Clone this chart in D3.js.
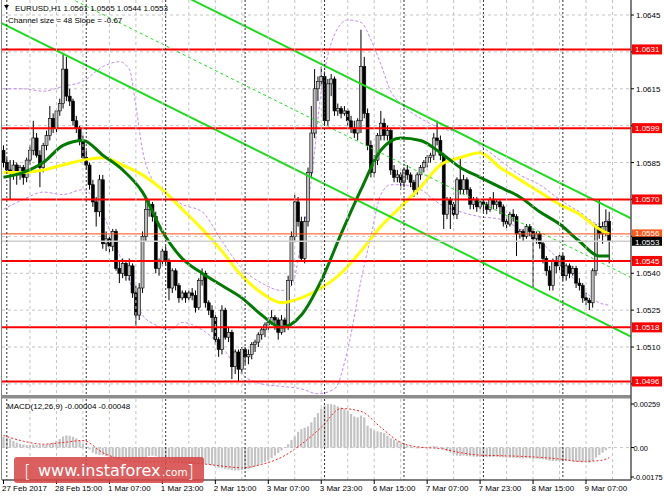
<!DOCTYPE html>
<html>
<head>
<meta charset="utf-8">
<script src="https://cdn.jsdelivr.net/npm/d3@7"></script>
<style>
  body { margin: 0; background: #fff; }
  svg text { font-family: "Liberation Sans", Arial, sans-serif; font-size: 8px; }
</style>
</head>
<body>
<script>
// EURUSD H1, 27 Feb - 9 Mar 2017
var timeLabels = ["27 Feb 2017", "28 Feb 15:00", "1 Mar 07:00", "1 Mar 23:00", "2 Mar 15:00", "3 Mar 07:00",
                  "3 Mar 23:00", "6 Mar 15:00", "7 Mar 07:00", "7 Mar 23:00", "8 Mar 15:00", "9 Mar 07:00"];
var priceTicks = [1.0645, 1.0630, 1.0615, 1.0600, 1.0585, 1.0570, 1.0555, 1.0540, 1.0525, 1.0510, 1.0495];
var levels = [1.0631, 1.0599, 1.0570, 1.0545, 1.0518, 1.0496];
var pivot = 1.0556;
var bid = 1.0553;
var daySeparators = [1, 25, 49, 73, 97, 121, 145, 169];

var opens = [
  1.0590,1.0585,1.0582,1.0581,1.0584,1.0580,1.0583,1.0579,1.0586,1.0590,1.0595,1.0588,
  1.0583,1.0592,1.0596,1.0603,1.0599,1.0606,1.0609,1.0623,1.0612,1.0610,1.0602,1.0599,
  1.0594,1.0587,1.0584,1.0576,1.0569,1.0565,1.0578,1.0552,1.0554,1.0551,1.0557,1.0542,
  1.0540,1.0544,1.0539,1.0543,1.0532,1.0523,1.0534,1.0555,1.0566,1.0568,1.0563,1.0542,
  1.0545,1.0549,1.0545,1.0534,1.0541,1.0535,1.0530,1.0532,1.0530,1.0532,1.0531,1.0526,
  1.0537,1.0540,1.0528,1.0525,1.0522,1.0513,1.0509,1.0525,1.0514,1.0516,1.0502,1.0508,
  1.0501,1.0509,1.0506,1.0507,1.0511,1.0512,1.0515,1.0517,1.0519,1.0520,1.0522,1.0521,
  1.0516,1.0521,1.0519,1.0537,1.0555,1.0569,1.0561,1.0546,1.0561,1.0581,1.0597,1.0615,
  1.0618,1.0620,1.0602,1.0617,1.0619,1.0606,1.0607,1.0605,1.0606,1.0602,1.0599,1.0597,
  1.0602,1.0624,1.0605,1.0592,1.0581,1.0586,1.0596,1.0601,1.0596,1.0598,1.0582,1.0579,
  1.0580,1.0577,1.0582,1.0580,1.0577,1.0574,1.0580,1.0583,1.0585,1.0587,1.0588,1.0595,
  1.0594,1.0588,1.0564,1.0570,1.0568,1.0564,1.0578,1.0574,1.0578,1.0574,1.0568,1.0570,
  1.0567,1.0569,1.0568,1.0566,1.0570,1.0568,1.0569,1.0567,1.0561,1.0560,1.0564,1.0563,
  1.0556,1.0557,1.0555,1.0559,1.0557,1.0554,1.0556,1.0552,1.0546,1.0541,1.0535,1.0545,
  1.0543,1.0547,1.0539,1.0543,1.0540,1.0542,1.0536,1.0535,1.0530,1.0529,1.0528,1.0541,
  1.0559,1.0556,1.0559,1.0561];
var highs = [
  1.0592,1.0587,1.0586,1.0586,1.0585,1.0584,1.0584,1.0587,1.0592,1.0602,1.0597,1.0590,
  1.0593,1.0598,1.0608,1.0605,1.0607,1.0611,1.0629,1.0628,1.0615,1.0611,1.0604,1.0600,
  1.0596,1.0590,1.0585,1.0578,1.0571,1.0580,1.0580,1.0557,1.0556,1.0558,1.0558,1.0545,
  1.0546,1.0545,1.0546,1.0544,1.0535,1.0536,1.0557,1.0571,1.0570,1.0569,1.0565,1.0546,
  1.0550,1.0551,1.0546,1.0542,1.0542,1.0536,1.0533,1.0533,1.0533,1.0534,1.0533,1.0538,
  1.0542,1.0541,1.0529,1.0527,1.0523,1.0514,1.0527,1.0526,1.0518,1.0517,1.0509,1.0509,
  1.0510,1.0510,1.0509,1.0512,1.0513,1.0516,1.0518,1.0520,1.0522,1.0525,1.0523,1.0522,
  1.0523,1.0522,1.0539,1.0557,1.0572,1.0571,1.0563,1.0563,1.0583,1.0608,1.0623,1.0620,
  1.0624,1.0622,1.0619,1.0621,1.0620,1.0609,1.0608,1.0608,1.0607,1.0604,1.0602,1.0603,
  1.0639,1.0628,1.0607,1.0594,1.0588,1.0597,1.0606,1.0603,1.0600,1.0599,1.0584,1.0582,
  1.0581,1.0583,1.0584,1.0581,1.0578,1.0581,1.0584,1.0586,1.0588,1.0589,1.0597,1.0602,
  1.0596,1.0589,1.0571,1.0571,1.0569,1.0579,1.0587,1.0580,1.0579,1.0575,1.0571,1.0571,
  1.0570,1.0570,1.0569,1.0571,1.0573,1.0570,1.0570,1.0568,1.0563,1.0565,1.0566,1.0564,
  1.0558,1.0558,1.0560,1.0560,1.0558,1.0557,1.0557,1.0553,1.0547,1.0543,1.0546,1.0547,
  1.0548,1.0548,1.0544,1.0544,1.0543,1.0543,1.0538,1.0536,1.0532,1.0530,1.0542,1.0560,
  1.0570,1.0561,1.0566,1.0565];
var lows = [
  1.0583,1.0581,1.0570,1.0578,1.0576,1.0578,1.0576,1.0577,1.0584,1.0588,1.0587,1.0575,
  1.0581,1.0590,1.0594,1.0597,1.0597,1.0604,1.0607,1.0610,1.0608,1.0600,1.0597,1.0592,
  1.0586,1.0582,1.0574,1.0567,1.0559,1.0563,1.0550,1.0549,1.0548,1.0549,1.0541,1.0536,
  1.0538,1.0537,1.0537,1.0530,1.0518,1.0521,1.0532,1.0553,1.0563,1.0561,1.0540,1.0539,
  1.0543,1.0543,1.0529,1.0532,1.0533,1.0528,1.0529,1.0528,1.0529,1.0529,1.0524,1.0525,
  1.0535,1.0526,1.0523,1.0516,1.0511,1.0506,1.0507,1.0513,1.0512,1.0497,1.0499,1.0496,
  1.0499,1.0503,1.0503,1.0505,1.0508,1.0510,1.0513,1.0514,1.0517,1.0519,1.0517,1.0513,
  1.0515,1.0516,1.0517,1.0535,1.0553,1.0559,1.0545,1.0544,1.0559,1.0579,1.0595,1.0610,
  1.0616,1.0600,1.0600,1.0612,1.0604,1.0604,1.0603,1.0604,1.0600,1.0597,1.0595,1.0594,
  1.0597,1.0603,1.0590,1.0579,1.0579,1.0584,1.0594,1.0594,1.0594,1.0580,1.0577,1.0577,
  1.0574,1.0575,1.0578,1.0575,1.0571,1.0572,1.0578,1.0581,1.0583,1.0585,1.0586,1.0592,
  1.0586,1.0558,1.0562,1.0558,1.0562,1.0562,1.0572,1.0572,1.0572,1.0566,1.0566,1.0565,
  1.0566,1.0565,1.0564,1.0565,1.0566,1.0566,1.0564,1.0559,1.0558,1.0559,1.0561,1.0547,
  1.0554,1.0553,1.0554,1.0555,1.0534,1.0552,1.0550,1.0544,1.0539,1.0533,1.0533,1.0540,
  1.0541,1.0537,1.0537,1.0538,1.0539,1.0534,1.0533,1.0528,1.0527,1.0525,1.0526,1.0539,
  1.0554,1.0552,1.0555,1.0544];
var closes = [
  1.0585,1.0582,1.0581,1.0584,1.0580,1.0583,1.0579,1.0586,1.0590,1.0595,1.0588,1.0583,
  1.0592,1.0596,1.0603,1.0599,1.0606,1.0609,1.0623,1.0612,1.0610,1.0602,1.0599,1.0594,
  1.0587,1.0584,1.0576,1.0569,1.0565,1.0578,1.0552,1.0554,1.0551,1.0557,1.0542,1.0540,
  1.0544,1.0539,1.0543,1.0532,1.0523,1.0534,1.0555,1.0566,1.0568,1.0563,1.0542,1.0545,
  1.0549,1.0545,1.0534,1.0541,1.0535,1.0530,1.0532,1.0530,1.0532,1.0531,1.0526,1.0537,
  1.0540,1.0528,1.0525,1.0522,1.0513,1.0509,1.0525,1.0514,1.0516,1.0502,1.0508,1.0501,
  1.0509,1.0506,1.0507,1.0511,1.0512,1.0515,1.0517,1.0519,1.0520,1.0522,1.0521,1.0516,
  1.0521,1.0519,1.0537,1.0555,1.0569,1.0561,1.0546,1.0561,1.0581,1.0597,1.0615,1.0618,
  1.0620,1.0602,1.0617,1.0619,1.0606,1.0607,1.0605,1.0606,1.0602,1.0599,1.0597,1.0602,
  1.0624,1.0605,1.0592,1.0581,1.0586,1.0596,1.0601,1.0596,1.0598,1.0582,1.0579,1.0580,
  1.0577,1.0582,1.0580,1.0577,1.0574,1.0580,1.0583,1.0585,1.0587,1.0588,1.0595,1.0594,
  1.0588,1.0564,1.0570,1.0568,1.0564,1.0578,1.0574,1.0578,1.0574,1.0568,1.0570,1.0567,
  1.0569,1.0568,1.0566,1.0570,1.0568,1.0569,1.0567,1.0561,1.0560,1.0564,1.0563,1.0556,
  1.0557,1.0555,1.0559,1.0557,1.0554,1.0556,1.0552,1.0546,1.0541,1.0535,1.0545,1.0543,
  1.0547,1.0539,1.0543,1.0540,1.0542,1.0536,1.0535,1.0530,1.0529,1.0528,1.0541,1.0559,
  1.0556,1.0559,1.0561,1.0553];

// moving averages, read every 6 bars
var maBars = [0,6,12,18,24,30,36,42,48,54,60,66,72,78,84,90,96,102,108,114,120,126,132,138,144,150,156,162,168,174,180,183];
var yellowMa = [1.0581,1.0581,1.0582,1.0584,1.0586,1.0587,1.0584,1.0580,1.0574,1.0566,1.0558,1.0549,1.0539,1.0532,1.0528,1.0530,
                1.0534,1.0540,1.0549,1.0559,1.0567,1.0575,1.0584,1.0587,1.0589,1.0583,1.0578,1.0573,1.0568,1.0564,1.0558,1.0556];
var greenMa = [1.0579,1.0581,1.0585,1.0592,1.0594,1.0588,1.0582,1.0573,1.0557,1.0546,1.0540,1.0535,1.0530,1.0523,1.0518,1.0523,
               1.0537,1.0556,1.0574,1.0590,1.0595,1.0594,1.0589,1.0583,1.0579,1.0575,1.0571,1.0565,1.0560,1.0553,1.0547,1.0547];

var upperBars = [0,6,12,18,24,30,35,38,40,42,45,48,54,60,66,72,78,84,87,90,93,96,100,104,108,111,114,117,120,126,132,138,144,150,156,162,168,174,180,183];
var upperBand = [1.0615,1.0615,1.0614,1.0616,1.0618,1.0624,1.0626,1.0623,1.0608,1.0590,1.0578,1.0574,1.0568,1.0565,1.0553,1.0542,
                 1.0536,1.0533,1.0535,1.0553,1.0578,1.0614,1.0637,1.0643,1.0642,1.0635,1.0625,1.0614,1.0609,1.0603,1.0599,1.0597,
                 1.0592,1.0586,1.0580,1.0576,1.0570,1.0565,1.0560,1.0562];
var lowerBars = [0,6,12,18,24,30,34,38,42,46,50,54,60,66,72,78,84,90,95,100,104,108,111,114,117,120,126,132,138,144,150,156,162,168,174,180,183];
var lowerBand = [1.0566,1.0570,1.0573,1.0572,1.0574,1.0564,1.0551,1.0537,1.0523,1.0519,1.0517,1.0520,1.0517,1.0510,1.0499,1.0495,
                 1.0494,1.0493,1.0491,1.0493,1.0509,1.0537,1.0555,1.0572,1.0576,1.0576,1.0574,1.0568,1.0565,1.0563,1.0562,1.0558,
                 1.0553,1.0545,1.0535,1.0528,1.0527];

// regression channel: lower edge, size 48 pips
var channelBars = [-1, 190];
var channelLower = [1.0642, 1.0514];
var channelSize = 0.0048;

var macdMain = [
  0.00064,0.00060,0.00052,0.00040,0.00030,0.00022,0.00018,0.00015,0.00016,0.00018,0.00016,0.00014,
  0.00016,0.00018,0.00022,0.00030,0.00040,0.00050,0.00066,0.00072,0.00070,0.00064,0.00055,0.00040,
  0.00022,0.00005,-0.00012,-0.00030,-0.00040,-0.00045,-0.00045,-0.00050,-0.00055,-0.00058,-0.00060,-0.00062,
  -0.00062,-0.00064,-0.00066,-0.00070,-0.00075,-0.00072,-0.00066,-0.00058,-0.00050,-0.00048,-0.00052,-0.00058,
  -0.00062,-0.00064,-0.00070,-0.00074,-0.00080,-0.00088,-0.00092,-0.00095,-0.00096,-0.00098,-0.00100,-0.00098,
  -0.00094,-0.00096,-0.00100,-0.00106,-0.00112,-0.00120,-0.00124,-0.00128,-0.00130,-0.00134,-0.00136,-0.00136,
  -0.00134,-0.00130,-0.00126,-0.00120,-0.00112,-0.00104,-0.00095,-0.00085,-0.00075,-0.00062,-0.00048,-0.00032,
  -0.00018,0.00002,0.00020,0.00045,0.00065,0.00094,0.00110,0.00118,0.00126,0.00150,0.00180,0.00205,
  0.00232,0.00250,0.00259,0.00258,0.00254,0.00245,0.00238,0.00228,0.00220,0.00200,0.00185,0.00180,
  0.00190,0.00180,0.00130,0.00115,0.00100,0.00096,0.00092,0.00086,0.00070,0.00055,0.00046,0.00035,
  0.00022,0.00016,0.00010,0.00006,-0.00004,-0.00005,-0.00004,0.00002,0.00004,0.00006,0.00008,0.00006,
  0.00002,-0.00010,-0.00020,-0.00030,-0.00040,-0.00048,-0.00050,-0.00048,-0.00050,-0.00052,-0.00054,-0.00055,
  -0.00056,-0.00056,-0.00057,-0.00056,-0.00055,-0.00055,-0.00056,-0.00058,-0.00060,-0.00060,-0.00060,-0.00062,
  -0.00064,-0.00064,-0.00063,-0.00064,-0.00066,-0.00066,-0.00068,-0.00070,-0.00074,-0.00078,-0.00080,-0.00080,
  -0.00080,-0.00082,-0.00080,-0.00080,-0.00082,-0.00084,-0.00086,-0.00088,-0.00090,-0.00090,-0.00080,-0.00060,
  -0.00045,-0.00030,-0.00016,-0.00004];
var macdSignal = [0.00072,0.00038,0.00020,0.00030,0.00042,-0.00030,-0.00072,-0.00085,-0.00085,-0.00088,-0.00096,-0.00110,
                  -0.00120,-0.00100,-0.00058,0.00020,0.00120,0.00232,0.00215,0.00120,0.00030,0.00002,-0.00006,-0.00030,
                  -0.00045,-0.00048,-0.00052,-0.00058,-0.00068,-0.00082,-0.00078,-0.00060];
var macdTicks = [0.00259, 0, -0.00175];

var W = 664, H = 498;
var left = 2, right = 631, mainBottom = 395, macdTop = 399, macdBottom = 480;

var svg = d3.select("body").append("svg")
            .attr("width", W)
            .attr("height", H);

svg.append("rect").attr("width", W).attr("height", H).attr("fill", "#fff");

var defs = svg.append("defs");
defs.append("clipPath").attr("id", "clipMain")
    .append("rect").attr("x", left).attr("y", 0).attr("width", right - left).attr("height", mainBottom);
defs.append("clipPath").attr("id", "clipMacd")
    .append("rect").attr("x", left).attr("y", macdTop).attr("width", right - left).attr("height", macdBottom - macdTop);

var x = d3.scaleLinear().domain([0, 183]).range([3.5, 609.2]);
var y = d3.scaleLinear().domain([1.04905, 1.06511]).range([mainBottom, 0]);
var ym = d3.scaleLinear().domain([-0.00175, 0.00259]).range([477, 404]);

var main = svg.append("g").attr("clip-path", "url(#clipMain)");
var macd = svg.append("g").attr("clip-path", "url(#clipMacd)");

// grid
var gridBars = d3.range(8, 190, 8);
[[0, mainBottom], [macdTop, macdBottom]].forEach(function(span) {
  svg.append("g").selectAll("line")
      .data(gridBars)
    .enter().append("line")
      .attr("x1", function(d) { return x(d); })
      .attr("x2", function(d) { return x(d); })
      .attr("y1", span[0]).attr("y2", span[1])
      .style("stroke", "#c4c4c4")
      .style("stroke-dasharray", "3,3");
  svg.append("g").selectAll("line")
      .data(daySeparators)
    .enter().append("line")
      .attr("x1", function(d) { return x(d); })
      .attr("x2", function(d) { return x(d); })
      .attr("y1", span[0]).attr("y2", span[1])
      .style("stroke", "#333")
      .style("stroke-dasharray", "2,2");
});

main.append("g").selectAll("line")
    .data(priceTicks)
  .enter().append("line")
    .attr("x1", left).attr("x2", right)
    .attr("y1", function(d) { return y(d); })
    .attr("y2", function(d) { return y(d); })
    .style("stroke", "#c4c4c4")
    .style("stroke-dasharray", "3,3");

macd.append("line")
    .attr("x1", left).attr("x2", right)
    .attr("y1", ym(0)).attr("y2", ym(0))
    .style("stroke", "#c4c4c4")
    .style("stroke-dasharray", "3,3");

// bollinger bands
var curve = d3.line()
    .x(function(d) { return x(d[0]); })
    .y(function(d) { return y(d[1]); })
    .curve(d3.curveMonotoneX);

[[upperBars, upperBand], [lowerBars, lowerBand]].forEach(function(b) {
  main.append("path")
      .datum(d3.zip(b[0], b[1]))
      .attr("d", curve)
      .style("fill", "none")
      .style("stroke", "#c58cf0")
      .style("stroke-width", 1)
      .style("stroke-dasharray", "3,2");
});

// candles
var bars = d3.range(opens.length);
main.append("g").selectAll("line")
    .data(bars)
  .enter().append("line")
    .attr("x1", function(i) { return x(i); })
    .attr("x2", function(i) { return x(i); })
    .attr("y1", function(i) { return y(highs[i]); })
    .attr("y2", function(i) { return y(lows[i]); })
    .style("stroke", "#000")
    .style("stroke-width", 1);

main.append("g").selectAll("rect")
    .data(bars)
  .enter().append("rect")
    .attr("x", function(i) { return x(i) - 1.5; })
    .attr("width", 3)
    .attr("y", function(i) { return y(Math.max(opens[i], closes[i])); })
    .attr("height", function(i) { return Math.max(1, Math.abs(y(opens[i]) - y(closes[i]))); })
    .style("fill", function(i) { return closes[i] >= opens[i] ? "#bdbdbd" : "#000"; })
    .style("stroke", "#000")
    .style("stroke-width", 0.6);

// moving averages
main.append("path")
    .datum(d3.zip(maBars, yellowMa))
    .attr("d", curve)
    .style("fill", "none")
    .style("stroke", "#ffff00")
    .style("stroke-width", 3);

main.append("path")
    .datum(d3.zip(maBars, greenMa))
    .attr("d", curve)
    .style("fill", "none")
    .style("stroke", "#007a00")
    .style("stroke-width", 3);

// channel
var straight = d3.line()
    .x(function(d) { return x(d[0]); })
    .y(function(d) { return y(d[1]); });

[0, channelSize].forEach(function(off) {
  main.append("path")
      .datum(channelBars.map(function(b, k) { return [b, channelLower[k] + off]; }))
      .attr("d", straight)
      .style("stroke", "#1fdc1f")
      .style("stroke-width", 2);
});
main.append("path")
    .datum(channelBars.map(function(b, k) { return [b, channelLower[k] + channelSize / 2]; }))
    .attr("d", straight)
    .style("stroke", "#1fdc1f")
    .style("stroke-width", 1)
    .style("stroke-dasharray", "3,3");

// horizontal levels
main.append("line")
    .attr("x1", left).attr("x2", right)
    .attr("y1", y(bid)).attr("y2", y(bid))
    .style("stroke", "#cfcfcf")
    .style("stroke-width", 1.5);
main.append("line")
    .attr("x1", left).attr("x2", right)
    .attr("y1", y(pivot)).attr("y2", y(pivot))
    .style("stroke", "#ff4a10")
    .style("stroke-width", 1);
main.append("g").selectAll("line")
    .data(levels)
  .enter().append("line")
    .attr("x1", left).attr("x2", right)
    .attr("y1", function(d) { return y(d); })
    .attr("y2", function(d) { return y(d); })
    .style("stroke", "#ff0000")
    .style("stroke-width", 2);

// macd histogram and signal
macd.append("g").selectAll("rect")
    .data(bars)
  .enter().append("rect")
    .attr("x", function(i) { return x(i) - 1.1; })
    .attr("width", 2.2)
    .attr("y", function(i) { return Math.min(ym(0), ym(macdMain[i])); })
    .attr("height", function(i) { return Math.abs(ym(macdMain[i]) - ym(0)); })
    .style("fill", "#c3c3c3");

macd.append("path")
    .datum(d3.zip(maBars, macdSignal))
    .attr("d", d3.line()
        .x(function(d) { return x(d[0]); })
        .y(function(d) { return ym(d[1]); })
        .curve(d3.curveMonotoneX))
    .style("fill", "none")
    .style("stroke", "#ff2020")
    .style("stroke-width", 1)
    .style("stroke-dasharray", "2,2");

// frame
svg.append("rect")
    .attr("x", left).attr("y", mainBottom)
    .attr("width", right - left).attr("height", 3.5)
    .style("fill", "#8c8c8c");
svg.append("line").attr("x1", 1.5).attr("x2", 1.5).attr("y1", 0).attr("y2", macdBottom)
    .style("stroke", "#888").style("stroke-width", 1);
svg.append("line").attr("x1", right).attr("x2", right).attr("y1", 0).attr("y2", macdBottom)
    .style("stroke", "#555").style("stroke-width", 1.5);
svg.append("line").attr("x1", left).attr("x2", right).attr("y1", macdBottom).attr("y2", macdBottom)
    .style("stroke", "#555").style("stroke-width", 1.5);

// right price axis; tick labels hidden behind a level box are left out
var boxed = levels.concat([pivot, bid]);
var axisR = svg.append("g");
priceTicks.forEach(function(p) {
  axisR.append("line").attr("x1", right).attr("x2", right + 3)
      .attr("y1", y(p)).attr("y2", y(p)).style("stroke", "#000");
  var covered = boxed.some(function(b) { return Math.abs(y(b) - y(p)) < 11; });
  if (!covered) {
    axisR.append("text").attr("x", right + 5).attr("y", y(p) + 3)
        .text(d3.format(".4f")(p));
  }
});
macdTicks.forEach(function(v) {
  axisR.append("line").attr("x1", right).attr("x2", right + 3)
      .attr("y1", ym(v)).attr("y2", ym(v)).style("stroke", "#000");
  axisR.append("text").attr("x", right + 2.5).attr("y", ym(v) + 3)
      .style("font-size", "7.4px")
      .text(v === 0 ? "0.00" : d3.format(".5f")(v).replace("\u2212", "-"));
});

function priceBox(p, fill, h, dy) {
  axisR.append("rect")
      .attr("x", right + 1).attr("y", y(p) - h / 2)
      .attr("width", 30).attr("height", h)
      .style("fill", fill);
  axisR.append("text")
      .attr("x", right + 4).attr("y", y(p) + dy)
      .style("fill", "#fff")
      .text(d3.format(".4f")(p));
}
levels.forEach(function(p) { priceBox(p, "#ff0000", 10, 2.8); });
priceBox(pivot, "#ff5a1e", 9, 1.9);
priceBox(bid, "#000", 9, 3.6);

// time axis
var axisB = svg.append("g");
timeLabels.forEach(function(t, k) {
  var xi = x(k * 16);
  axisB.append("line").attr("x1", xi).attr("x2", xi)
      .attr("y1", macdBottom).attr("y2", macdBottom + 4).style("stroke", "#000");
  axisB.append("text").attr("x", xi - 1.5).attr("y", 491).text(t);
});

// watermark
var wm = svg.append("g");
wm.append("rect")
    .attr("x", 14).attr("y", 457).attr("width", 190).attr("height", 26).attr("rx", 3)
    .style("fill", "#d64545").style("opacity", 0.86);
wm.append("text").attr("x", 24).attr("y", 478)
    .style("font-family", "DejaVu Sans").style("font-size", "18px").style("font-weight", 200)
    .style("fill", "#fff").text("[");
wm.append("text").attr("x", 38).attr("y", 476)
    .style("font-family", "DejaVu Sans").style("font-size", "16px")
    .style("fill", "#fff").text("www.instaforex");
wm.append("text").attr("x", 162).attr("y", 476)
    .style("font-family", "DejaVu Sans").style("font-size", "10.5px")
    .style("fill", "#fff").text(".com");
wm.append("text").attr("x", 187).attr("y", 478)
    .style("font-family", "DejaVu Sans").style("font-size", "18px").style("font-weight", 200)
    .style("fill", "#fff").text("]");

// header texts
svg.append("path").attr("d", "M4,5 L9,5 L6.5,9 Z").style("fill", "#000");
svg.append("text").attr("x", 15).attr("y", 11)
    .text("EURUSD,H1  1.0561 1.0565 1.0544 1.0553");
svg.append("text").attr("x", 8).attr("y", 23)
    .text("Channel size = 48 Slope = -0.67");
svg.append("text").attr("x", 7).attr("y", 409)
    .text("MACD(12,26,9) -0.00004 -0.00048");
</script>
</body>
</html>
